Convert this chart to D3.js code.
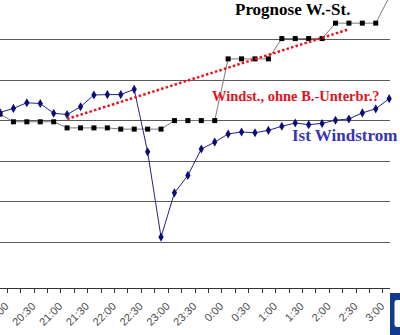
<!DOCTYPE html>
<html>
<head>
<meta charset="utf-8">
<script src="https://cdn.jsdelivr.net/npm/d3@7"></script>
<style>
  html, body { margin: 0; padding: 0; background: #fff; }
  svg { display: block; }
</style>
</head>
<body>
<svg id="chart" width="400" height="335"></svg>
<script>
// Quarter-hour slots from 19:45 to 3:00
const times = ["19:45","20:00","20:15","20:30","20:45","21:00","21:15","21:30","21:45",
  "22:00","22:15","22:30","22:45","23:00","23:15","23:30","23:45","0:00","0:15","0:30",
  "0:45","1:00","1:15","1:30","1:45","2:00","2:15","2:30","2:45","3:00"];

// Measured wind power (MW)
const istWindstrom = [4190,4290,4430,4410,4170,4140,4330,4620,4630,4630,4760,3220,1120,
  2210,2640,3290,3460,3660,3710,3690,3750,3850,3930,3890,3920,4000,4030,4180,4280,4530];

// Forecast wind power (MW)
const prognose = [4150,3960,3960,3960,3960,3810,3810,3810,3810,3780,3780,3780,3780,
  3990,3990,3990,3990,5510,5510,5510,5510,6010,6010,6010,6010,6390,6390,6390,6390,7030];

// Trend without the interruption: start and end slot with values
const trendTimes = ["21:00","2:15"];
const trendValues = [4030,6240];

// Horizontal gridlines
const gridValues = [1000,2000,3000,4000,5000,6000];

// Labelled slots on the time axis
const labelTimes = times.filter((t, i) => i % 2 === 1);

const svg = d3.select("#chart");

const step = 13.42;
const x = d3.scaleBand()
  .domain(times)
  .range([-step / 2, -step / 2 + step * times.length])
  .padding(0);
const cx = t => x(t) + x.bandwidth() / 2;

const y = d3.scaleLinear().domain([-133, 6960]).range([288, 0]);

const plotRight = 390;

// gridlines
svg.append("g")
  .selectAll("line")
  .data(gridValues)
  .join("line")
  .attr("x1", 0).attr("x2", plotRight)
  .attr("y1", d => Math.round(y(d)) + 0.5)
  .attr("y2", d => Math.round(y(d)) + 0.5)
  .attr("stroke", "#5a5a5a")
  .attr("stroke-width", 1);

// time axis: line, ticks between slots, rotated labels
const axis = svg.append("g").attr("class", "x-axis");
axis.append("line")
  .attr("x1", 0).attr("x2", plotRight)
  .attr("y1", 288.5).attr("y2", 288.5)
  .attr("stroke", "#333").attr("stroke-width", 1);

axis.selectAll("line.tick")
  .data(times.slice(1))
  .join("line")
  .attr("class", "tick")
  .attr("x1", d => Math.round(x(d)) + 0.5)
  .attr("x2", d => Math.round(x(d)) + 0.5)
  .attr("y1", 288).attr("y2", 293)
  .attr("stroke", "#333").attr("stroke-width", 1);

axis.selectAll("text")
  .data(labelTimes)
  .join("text")
  .attr("transform", d => `translate(${cx(d) - 4},307) rotate(-45)`)
  .attr("text-anchor", "end")
  .attr("font-family", "'Liberation Sans', Arial, sans-serif")
  .attr("font-size", 11)
  .attr("fill", "#4a4a4a")
  .text(d => d);

// forecast series
const line = d3.line().x((d, i) => cx(times[i])).y(d => y(d));
svg.append("path")
  .datum(prognose)
  .attr("d", line)
  .attr("fill", "none")
  .attr("stroke", "#7a7a7a")
  .attr("stroke-width", 1);
svg.append("g")
  .selectAll("rect")
  .data(prognose)
  .join("rect")
  .attr("x", (d, i) => cx(times[i]) - 2.5)
  .attr("y", d => y(d) - 2.5)
  .attr("width", 5).attr("height", 5)
  .attr("fill", "#000");

// measured series
svg.append("path")
  .datum(istWindstrom)
  .attr("d", line)
  .attr("fill", "none")
  .attr("stroke", "#23238a")
  .attr("stroke-width", 1);
const diamond = d3.symbol().type(d3.symbolDiamond).size(24);
svg.append("g")
  .selectAll("path")
  .data(istWindstrom)
  .join("path")
  .attr("transform", (d, i) => `translate(${cx(times[i])},${y(d)})`)
  .attr("d", diamond)
  .attr("fill", "#0c0c78");

// dotted trend line
svg.append("line")
  .attr("x1", cx(trendTimes[0])).attr("y1", y(trendValues[0]))
  .attr("x2", cx(trendTimes[1])).attr("y2", y(trendValues[1]))
  .attr("stroke", "#e8141b")
  .attr("stroke-width", 2.5)
  .attr("stroke-dasharray", "2.5,2.2");

// annotations
const serif = "'Liberation Serif', 'Times New Roman', serif";
svg.append("text")
  .attr("x", 235).attr("y", 15)
  .attr("font-family", serif).attr("font-weight", "bold").attr("font-size", 17)
  .attr("fill", "#000")
  .text("Prognose W.-St.");
svg.append("text")
  .attr("x", 212).attr("y", 100.5)
  .attr("font-family", serif).attr("font-weight", "bold").attr("font-size", 14.5)
  .attr("fill", "#e0141e")
  .text("Windst., ohne B.-Unterbr.?");
svg.append("text")
  .attr("x", 292).attr("y", 140.5)
  .attr("font-family", serif).attr("font-weight", "bold").attr("font-size", 17)
  .attr("fill", "#3535b5")
  .text("Ist Windstrom");

// corner bracket at the lower right edge
svg.append("path")
  .attr("d", "M390,293 H400 V300 H397 Q394.5,300 394.5,303 V324 Q394.5,327 397,327 H400 V335 H390 Z")
  .attr("fill", "#103c8c");
</script>
</body>
</html>
